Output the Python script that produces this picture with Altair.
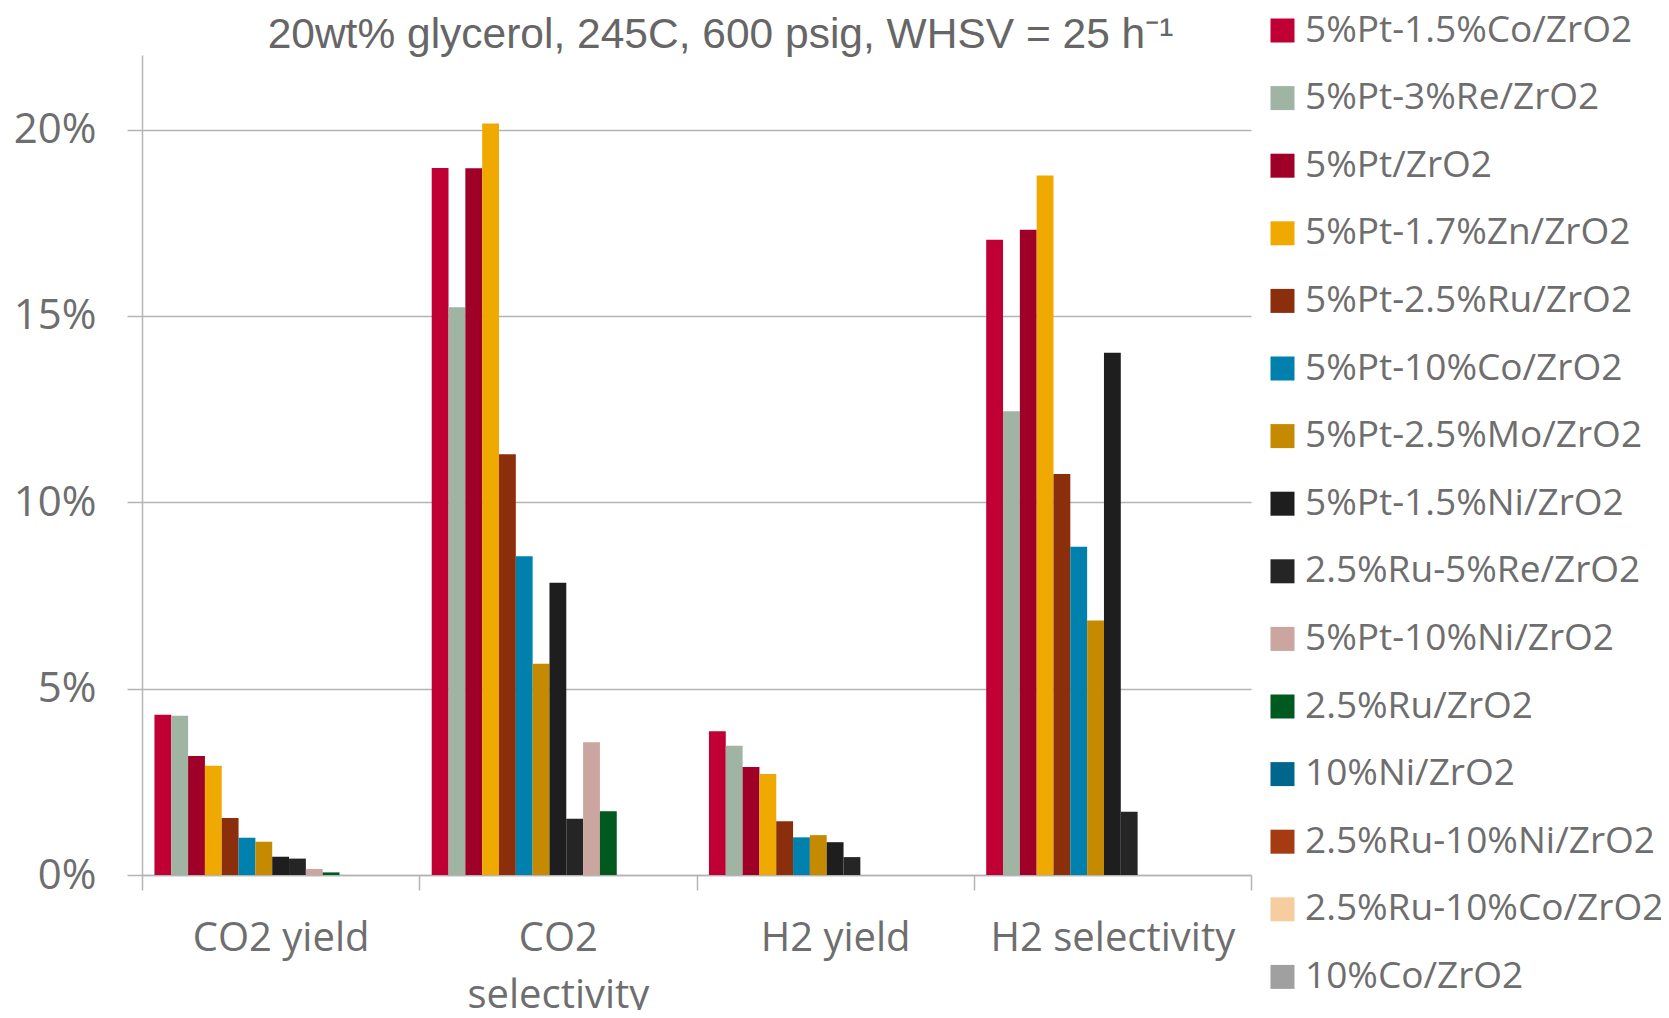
import altair as alt
import pandas as pd

categories = ["CO2 yield", "CO2 selectivity", "H2 yield", "H2 selectivity"]

series = [
    "5%Pt-1.5%Co/ZrO2", "5%Pt-3%Re/ZrO2", "5%Pt/ZrO2", "5%Pt-1.7%Zn/ZrO2",
    "5%Pt-2.5%Ru/ZrO2", "5%Pt-10%Co/ZrO2", "5%Pt-2.5%Mo/ZrO2", "5%Pt-1.5%Ni/ZrO2",
    "2.5%Ru-5%Re/ZrO2", "5%Pt-10%Ni/ZrO2", "2.5%Ru/ZrO2", "10%Ni/ZrO2",
    "2.5%Ru-10%Ni/ZrO2", "2.5%Ru-10%Co/ZrO2", "10%Co/ZrO2",
]

colors = [
    "#C00035", "#A0B4A4", "#9E0028", "#F0A900",
    "#8A2E0C", "#0080AC", "#C58A00", "#1E1E1E",
    "#252525", "#CBA59F", "#005A20", "#00668B",
    "#A63A12", "#F5CD9E", "#A0A0A0",
]

# values in % per category, order of series
co2_yield = [4.30, 4.27, 3.19, 2.93, 1.53, 1.00, 0.89, 0.49, 0.44, 0.16, 0.07, 0, 0, 0, 0]
co2_selectivity = [18.97, 15.23, 18.96, 20.16, 11.29, 8.55, 5.67, 7.84, 1.51, 3.56, 1.71, 0, 0, 0, 0]
h2_yield = [3.86, 3.47, 2.90, 2.71, 1.44, 1.01, 1.07, 0.88, 0.48, 0, 0, 0, 0, 0, 0]
h2_selectivity = [17.04, 12.44, 17.31, 18.77, 10.76, 8.81, 6.83, 14.01, 1.70, 0, 0, 0, 0, 0, 0]

rows = []
for cat, vals in zip(categories, [co2_yield, co2_selectivity, h2_yield, h2_selectivity]):
    for s, v in zip(series, vals):
        rows.append({"category": cat, "series": s, "value": v / 100.0})
df = pd.DataFrame(rows)

grid_color = "#B4B4B4"
text_color = "#6E6E6E"

chart = alt.Chart(df).mark_bar().encode(
    x=alt.X(
        "category:N",
        sort=categories,
        scale=alt.Scale(paddingInner=0, paddingOuter=0),
        axis=alt.Axis(
            title=None,
            labelAngle=0,
            labelFont="Open Sans",
            labelFontSize=40,
            labelColor=text_color,
            labelPadding=28,
            labelLineHeight=57,
            labelLimit=500,
            labelOverlap=False,
            labelExpr="datum.label == 'CO2 selectivity' ? ['CO2', 'selectivity'] : datum.label",
            tickBand="extent",
            tickSize=15,
            tickColor=grid_color,
            tickWidth=1.5,
            domainColor=grid_color,
            domainWidth=1.5,
            grid=False,
        ),
    ),
    xOffset=alt.XOffset(
        "series:N",
        sort=series,
        scale=alt.Scale(paddingInner=0, paddingOuter=0.74),
    ),
    y=alt.Y(
        "value:Q",
        scale=alt.Scale(domain=[0, 0.22], nice=False, zero=True),
        axis=alt.Axis(
            title=None,
            values=[0, 0.05, 0.10, 0.15, 0.20],
            format=".0%",
            labelFont="Open Sans",
            labelFontSize=42,
            labelColor=text_color,
            labelPadding=31,
            tickSize=15,
            tickColor=grid_color,
            tickWidth=1.5,
            domainColor=grid_color,
            domainWidth=1.5,
            grid=True,
            gridColor=grid_color,
            gridWidth=1.5,
        ),
    ),
    color=alt.Color(
        "series:N",
        sort=series,
        scale=alt.Scale(domain=series, range=colors),
        legend=alt.Legend(
            title=None,
            orient="none",
            legendX=1122,
            legendY=-43,
            symbolType="square",
            symbolSize=576,
            symbolStrokeWidth=0,
            labelFont="Open Sans",
            labelFontSize=37,
            labelColor=text_color,
            labelOffset=4,
            labelLimit=500,
            rowPadding=29.6,
            padding=0,
        ),
    ),
).properties(
    width=1109,
    height=820,
    title=alt.TitleParams(
        text="20wt% glycerol, 245C, 600 psig, WHSV = 25 h⁻¹",
        font="Liberation Sans",
        fontSize=42.5,
        fontWeight="normal",
        color="#666666",
        anchor="middle",
        frame="group",
        dx=24,
        offset=-78,
        baseline="alphabetic",
    ),
    autosize=alt.AutoSizeParams(type="none"),
    padding={"left": 134, "top": 47, "right": 410, "bottom": 135},
).configure_view(stroke=None)

chart.save("out.html", embed_options={"renderer": "svg", "actions": False})
